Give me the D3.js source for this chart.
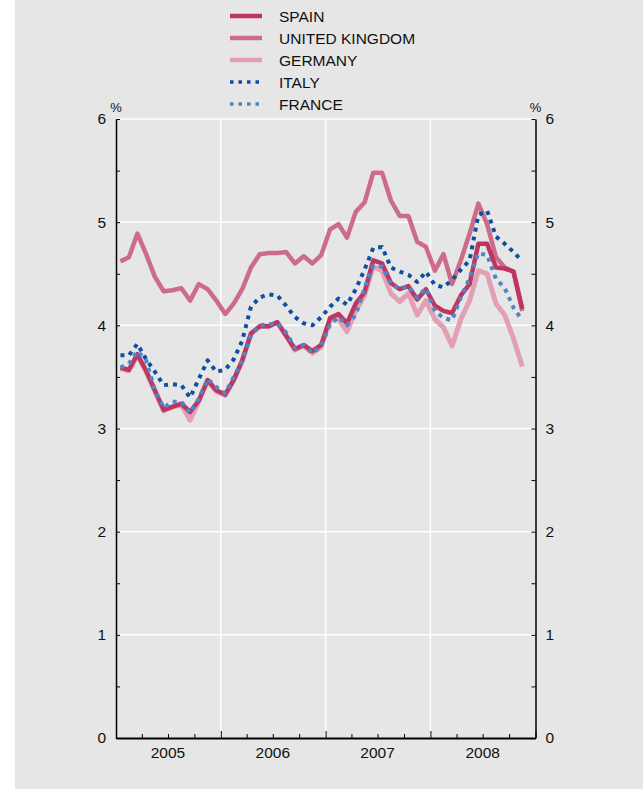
<!DOCTYPE html>
<html>
<head>
<meta charset="utf-8">
<style>
body { margin: 0; background: #fff; }
svg { font-family: "Liberation Sans", Arial, sans-serif; }
.grid line { stroke: #fff; stroke-width: 1.5; }
.axis path, .axis line { stroke: #000; }
.axis text { font-size: 15.5px; fill: #111; }
.series { fill: none; stroke-linejoin: round; }
</style>
</head>
<body>
<svg width="643" height="791"></svg>
<script src="https://cdn.jsdelivr.net/npm/d3@7"></script>
<script>
// monthly data, Jan 2005 - Nov 2008
var startYear = 2005;
var years = [2005, 2006, 2007, 2008];
var yTicks = [0, 1, 2, 3, 4, 5, 6];

var spain = [3.59,3.57,3.72,3.56,3.37,3.18,3.21,3.24,3.16,3.27,3.47,3.37,
             3.33,3.47,3.66,3.92,3.99,3.99,4.03,3.90,3.77,3.81,3.75,3.81,
             4.07,4.11,4.02,4.21,4.32,4.63,4.60,4.41,4.35,4.38,4.25,4.35,
             4.19,4.14,4.12,4.29,4.40,4.79,4.79,4.56,4.55,4.52,4.16];
var uk    = [4.62,4.66,4.89,4.69,4.47,4.33,4.34,4.36,4.24,4.40,4.35,4.24,
             4.11,4.21,4.35,4.56,4.69,4.70,4.70,4.71,4.60,4.67,4.60,4.68,
             4.93,4.98,4.85,5.10,5.19,5.48,5.48,5.21,5.06,5.06,4.81,4.76,
             4.53,4.69,4.40,4.63,4.89,5.18,4.98,4.66,4.56,4.52,4.14];
var germany = [3.58,3.56,3.71,3.55,3.36,3.17,3.21,3.23,3.08,3.27,3.46,3.36,
             3.32,3.47,3.65,3.92,3.99,3.99,4.03,3.90,3.76,3.80,3.73,3.79,
             4.05,4.06,3.94,4.14,4.29,4.57,4.53,4.31,4.23,4.31,4.10,4.24,
             4.06,3.98,3.80,4.06,4.24,4.53,4.50,4.21,4.10,3.87,3.60];
var italy = [3.71,3.71,3.82,3.67,3.55,3.42,3.43,3.42,3.30,3.48,3.66,3.55,
             3.57,3.67,3.85,4.18,4.27,4.30,4.29,4.19,4.08,4.02,4.00,4.08,
             4.18,4.26,4.20,4.35,4.54,4.75,4.76,4.56,4.52,4.49,4.42,4.52,
             4.39,4.37,4.44,4.54,4.63,5.07,5.11,4.86,4.79,4.71,4.62];
var france = [3.59,3.63,3.75,3.66,3.37,3.20,3.26,3.26,3.15,3.29,3.48,3.40,
             3.34,3.50,3.65,3.90,4.00,4.01,4.02,3.93,3.78,3.81,3.73,3.80,
             4.01,4.08,4.00,4.10,4.36,4.58,4.57,4.40,4.35,4.38,4.27,4.36,
             4.14,4.07,4.05,4.27,4.46,4.70,4.68,4.45,4.36,4.17,4.05];

var names = ["SPAIN", "UNITED KINGDOM", "GERMANY", "ITALY", "FRANCE"];
var colors = ["#bf3560", "#cc6c8a", "#e3a0b4", "#0c4fa3", "#4a88c8"];
var dotted = [false, false, false, true, true];
var widths = [4.5, 4.5, 5, 4, 4];
var values = [spain, uk, germany, italy, france];

var svg = d3.select("svg");
svg.append("rect").attr("x", 15).attr("y", 0).attr("width", 628).attr("height", 789)
  .attr("fill", "#e6e6e6");

var plotLeft = 116, plotRight = 535.5, plotTop = 119, plotBottom = 738;

var x = d3.scaleTime()
  .domain([new Date(startYear, 0, 1), new Date(2009, 0, 1)])
  .range([plotLeft, plotRight]);
var y = d3.scaleLinear().domain([0, 6]).range([plotBottom, plotTop]);

function mid(i) {
  var d0 = new Date(startYear, i, 1), d1 = new Date(startYear, i + 1, 1);
  return new Date((+d0 + +d1) / 2);
}

// grid
var grid = svg.append("g").attr("class", "grid");
grid.selectAll(".h").data(yTicks.filter(function(d) { return d > 0; }))
  .enter().append("line")
  .attr("x1", plotLeft).attr("x2", plotRight)
  .attr("y1", function(d) { return y(d); }).attr("y2", function(d) { return y(d); });
grid.selectAll(".v").data(years.slice(1))
  .enter().append("line")
  .attr("x1", function(d) { return x(new Date(d, 0, 1)); })
  .attr("x2", function(d) { return x(new Date(d, 0, 1)); })
  .attr("y1", plotTop).attr("y2", plotBottom);

// axes
var halfTicks = d3.range(0, 6.01, 0.5);
svg.append("g").attr("class", "axis")
  .attr("transform", "translate(" + plotLeft + ",0)")
  .call(d3.axisLeft(y).tickValues(halfTicks).tickSizeInner(-4).tickSizeOuter(0)
    .tickPadding(10).tickFormat(function(d) { return d % 1 === 0 ? d : ""; }))
  .call(function(g) { g.select(".domain").attr("stroke-width", 1.5); });

svg.append("g").attr("class", "axis")
  .attr("transform", "translate(" + plotRight + ",0)")
  .call(d3.axisRight(y).tickValues(halfTicks).tickSizeInner(-4).tickSizeOuter(0)
    .tickPadding(10).tickFormat(function(d) { return d % 1 === 0 ? d : ""; }))
  .call(function(g) { g.select(".domain").attr("stroke-width", 1.5); });

var quarters = d3.timeMonth.range(new Date(startYear, 0, 1), new Date(2009, 1, 1), 3);
svg.append("g").attr("class", "axis")
  .attr("transform", "translate(0," + plotBottom + ")")
  .call(d3.axisBottom(x).tickValues(quarters).tickSizeOuter(0).tickFormat(""))
  .call(function(g) {
    g.select(".domain").attr("stroke-width", 2);
    g.selectAll(".tick line")
      .attr("y2", function(d) { return d.getMonth() === 0 ? -7 : -4; });
  });

svg.append("g").attr("class", "axis")
  .selectAll("text").data(years).enter().append("text")
  .attr("x", function(d) { return x(new Date(d, 6, 1)); })
  .attr("y", plotBottom + 20)
  .attr("text-anchor", "middle")
  .text(function(d) { return d; });

svg.append("text").attr("x", plotLeft).attr("y", 112).attr("text-anchor", "middle")
  .attr("font-size", 13).attr("fill", "#111").text("%");
svg.append("text").attr("x", plotRight).attr("y", 112).attr("text-anchor", "middle")
  .attr("font-size", 13).attr("fill", "#111").text("%");

// lines
var line = d3.line()
  .x(function(d, i) { return x(mid(i)); })
  .y(function(d) { return y(d); });

var order = [1, 2, 0, 3, 4];
order.forEach(function(k) {
  svg.append("path").attr("class", "series")
    .attr("d", line(values[k]))
    .attr("stroke", colors[k])
    .attr("stroke-width", widths[k])
    .attr("stroke-dasharray", dotted[k] ? "4,5" : null);
});

// legend
var legend = svg.append("g").selectAll("g").data(names).enter().append("g")
  .attr("transform", function(d, i) { return "translate(0," + (16 + i * 22) + ")"; });
legend.append("line")
  .attr("x1", 230).attr("x2", 262)
  .attr("stroke", function(d, i) { return colors[i]; })
  .attr("stroke-width", function(d, i) { return dotted[i] ? 3.5 : 4.5; })
  .attr("stroke-dasharray", function(d, i) { return dotted[i] ? "3.5,5" : null; });
legend.append("text")
  .attr("x", 279).attr("y", 5.5)
  .attr("font-size", 15.5).attr("fill", "#111")
  .text(function(d) { return d; });
</script>
</body>
</html>
